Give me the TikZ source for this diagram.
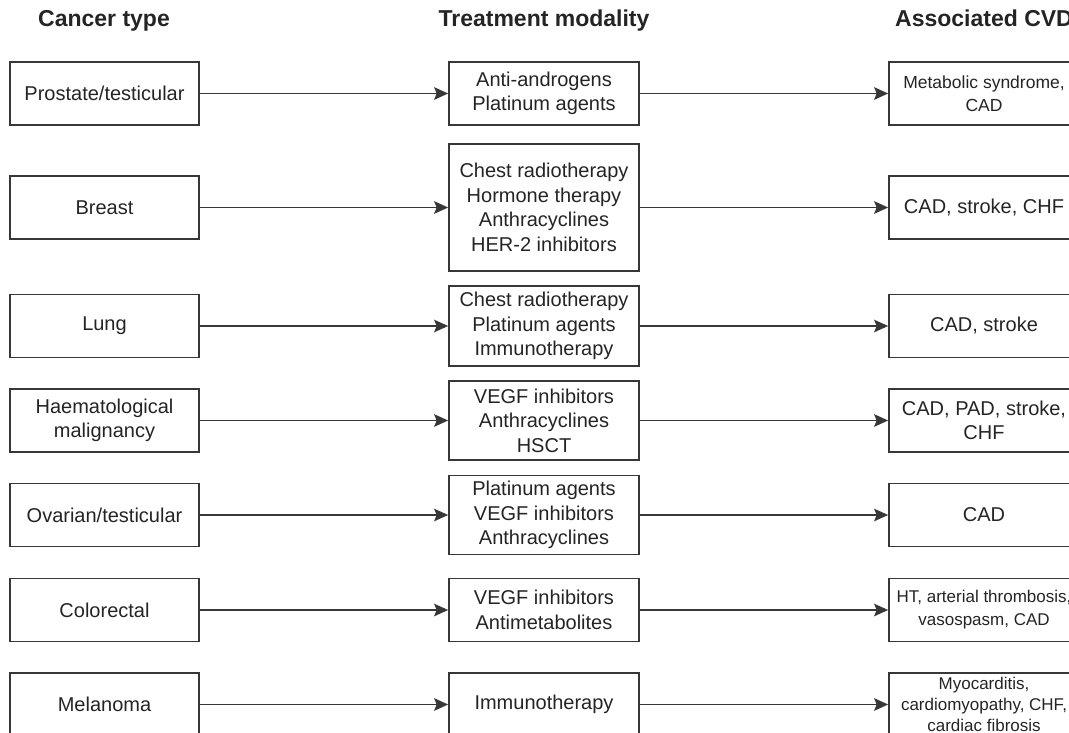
\documentclass[tikz,border=0pt]{standalone}
\usepackage{fontspec}
\setmainfont{Liberation Sans}
\usetikzlibrary{arrows.meta}
\definecolor{boxc}{RGB}{55,55,55}
\definecolor{txtc}{RGB}{36,36,36}
\begin{document}
\begin{tikzpicture}[x=1pt,y=-1pt,
  box/.style={draw=boxc, line width=1.7pt, text=txtc, align=center, inner sep=0pt,
              minimum width=189pt, minimum height=63pt, font=\fontsize{20}{24.5}\selectfont},
  small/.style={font=\fontsize{17.5}{23}\selectfont},
  tiny/.style={font=\fontsize{17}{21}\selectfont},
  title/.style={text=txtc, anchor=base, inner sep=0pt, font=\bfseries\fontsize{23}{27}\selectfont},
  arr/.style={draw=boxc, line width=1.8pt, -{Stealth[length=14pt,width=12.5pt,inset=2.5pt]}}]
\useasboundingbox (0,0) rectangle (1069,733);
% titles
\node[title] (t1) at (104,27) {Cancer type};
\node[title] (t2) at (544,27) {Treatment modality};
\node[title] (t3) at (984,27) {Associated CVD};
% left column
\node[box] (L1) at (104.5,93.5)  {Prostate/testicular};
\node[box] (L2) at (104.5,207.5) {Breast};
\node[box] (L3) at (104.5,326)   {Lung};
\node[box] (L4) at (104.5,420.5) {Haematological\\malignancy};
\node[box] (L5) at (104.5,515)   {Ovarian/testicular};
\node[box] (L6) at (104.5,610)   {Colorectal};
\node[box] (L7) at (104.5,704.5) {Melanoma};
% middle column
\node[box, minimum width=190pt] (M1) at (544,93.5) {Anti-androgens\\Platinum agents};
\node[box, minimum width=190pt, minimum height=127pt] (M2) at (544,207.5) {Chest radiotherapy\\Hormone therapy\\Anthracyclines\\HER-2 inhibitors};
\node[box, minimum width=190pt, minimum height=80pt] (M3) at (544,326) {Chest radiotherapy\\Platinum agents\\Immunotherapy};
\node[box, minimum width=190pt, minimum height=79pt] (M4) at (544,420.5) {VEGF inhibitors\\Anthracyclines\\HSCT};
\node[box, minimum width=190pt, minimum height=79pt] (M5) at (544,515) {Platinum agents\\VEGF inhibitors\\Anthracyclines};
\node[box, minimum width=190pt] (M6) at (544,610) {VEGF inhibitors\\Antimetabolites};
\node[box, minimum width=190pt] (M7) at (544,704.5) {Immunotherapy};
% right column
\node[box, minimum width=190pt, small] (R1) at (984,93.5) {Metabolic syndrome,\\CAD};
\node[box, minimum width=190pt] (R2) at (984,207.5) {CAD, stroke, CHF};
\node[box, minimum width=190pt] (R3) at (984,326) {CAD, stroke};
\node[box, minimum width=190pt] (R4) at (984,420.5) {CAD, PAD, stroke,\\CHF};
\node[box, minimum width=190pt] (R5) at (984,515) {CAD};
\node[box, minimum width=190pt, font=\fontsize{17}{23}\selectfont] (R6) at (984,610) {HT, arterial thrombosis,\\vasospasm, CAD};
\node[box, minimum width=190pt, tiny] (R7) at (984,704.5) {Myocarditis,\\cardiomyopathy, CHF,\\cardiac fibrosis};
% connectors
\foreach \i in {1,...,7}{
  \draw[arr] (L\i) -- (M\i);
  \draw[arr] (M\i) -- (R\i);
}
\end{tikzpicture}
\end{document}
